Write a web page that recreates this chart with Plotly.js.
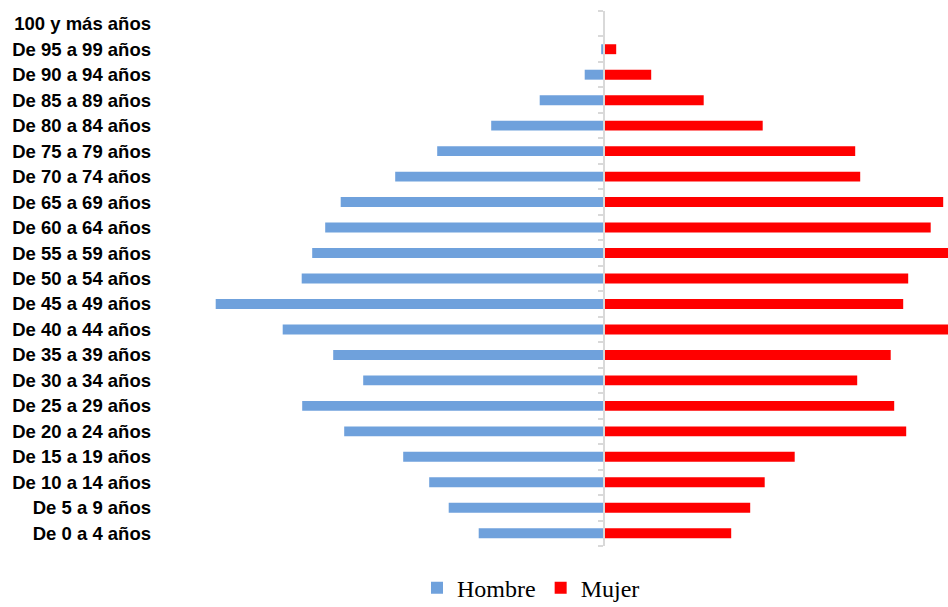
<!DOCTYPE html>
<html>
<head>
<meta charset="utf-8">
<script src="https://cdn.plot.ly/plotly-3.0.1.min.js"></script>
<style>html,body{margin:0;padding:0;background:#fff;}#chart{width:948px;height:607px;}</style>
</head>
<body>
<div id="chart"></div>
<script>
// Age groups (bottom to top)
var categories = [
  "De 0 a 4 años", "De 5 a 9 años", "De 10 a 14 años", "De 15 a 19 años",
  "De 20 a 24 años", "De 25 a 29 años", "De 30 a 34 años", "De 35 a 39 años",
  "De 40 a 44 años", "De 45 a 49 años", "De 50 a 54 años", "De 55 a 59 años",
  "De 60 a 64 años", "De 65 a 69 años", "De 70 a 74 años", "De 75 a 79 años",
  "De 80 a 84 años", "De 85 a 89 años", "De 90 a 94 años", "De 95 a 99 años",
  "100 y más años"
];
// Estimated values
var hombre = [1250, 1550, 1745, 2005, 2595, 3015, 2405, 2705, 3210, 3880, 3020,
              2915, 2785, 2630, 2085, 1665, 1125, 640, 190, 25, 0];
var mujer  = [1275, 1465, 1610, 1910, 3025, 2905, 2535, 2870, 3600, 2995, 3045,
              3500, 3270, 3395, 2565, 2515, 1590, 1000, 475, 125, 0];
var seriesNames = ["Hombre", "Mujer"];
var seriesColors = ["#6fa1dc", "#ff0000"];

var xRange = [-4517, 3443];
var zeroPos = (0 - xRange[0]) / (xRange[1] - xRange[0]);
var catRange = [-0.5, categories.length - 0.5];

var traces = [
  {
    type: "bar", orientation: "h", name: seriesNames[0],
    y: categories, x: hombre.map(function (v) { return -v; }),
    xaxis: "x", yaxis: "y",
    marker: { color: seriesColors[0], line: { width: 0 } },
    hoverinfo: "skip"
  },
  {
    type: "bar", orientation: "h", name: seriesNames[1],
    y: categories, x: mujer,
    xaxis: "x", yaxis: "y2",
    marker: { color: seriesColors[1], line: { width: 0 } },
    hoverinfo: "skip"
  }
];

var L = 152;
var layout = {
  width: 948, height: 607,
  margin: { l: L, r: 0, t: 11, b: 61, autoexpand: false },
  paper_bgcolor: "#ffffff", plot_bgcolor: "#ffffff",
  barmode: "overlay",
  bargap: 0.61,
  showlegend: true,
  xaxis: {
    range: xRange, showgrid: false, zeroline: false, showline: false,
    showticklabels: false, ticks: "", fixedrange: true
  },
  yaxis: {
    type: "category", range: catRange, showgrid: false, zeroline: false,
    showline: false, ticks: "",
    tickfont: { family: "Liberation Sans, Arial, sans-serif", size: 18.5, color: "#000000", weight: 700 }
  },
  yaxis2: {
    type: "category", range: catRange, overlaying: "y", anchor: "free",
    position: zeroPos, side: "left",
    showgrid: false, zeroline: false, showline: true, linecolor: "#d9d9d9", linewidth: 2,
    ticks: "outside", tickson: "boundaries", ticklen: 5, tickwidth: 2, tickcolor: "#d9d9d9",
    showticklabels: false
  },
  legend: {
    orientation: "h", x: (531 - L) / (948 - L), xanchor: "center",
    y: -0.121, yanchor: "bottom",
    font: { family: "Liberation Serif, Times New Roman, serif", size: 24, color: "#000000" },
    itemwidth: 30, tracegroupgap: 0
  }
};

Plotly.newPlot("chart", traces, layout, { staticPlot: true, displayModeBar: false });
</script>
</body>
</html>
